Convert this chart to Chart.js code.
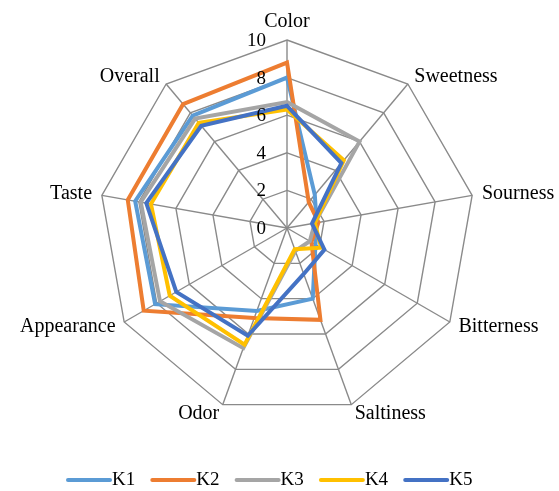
<!DOCTYPE html>
<html>
<head>
<meta charset="utf-8">
<script src="https://cdn.jsdelivr.net/npm/chart.js@4/dist/chart.umd.min.js"></script>
<style>
  html, body { margin: 0; padding: 0; background: #ffffff; }
  #wrap { width: 559px; height: 491px; position: relative; }
</style>
</head>
<body>
<div id="wrap"><canvas id="radar" width="559" height="491"></canvas></div>
<script>
// Sensory attributes (one spoke each, clockwise from the top)
const categories = ['Color', 'Sweetness', 'Sourness', 'Bitterness', 'Saltiness', 'Odor', 'Appearance', 'Taste', 'Overall'];

// Panel scores per sample
const k1 = [8.0, 2.3, 1.6, 1.75, 4.0, 4.7, 8.1, 8.2, 7.8];
const k2 = [8.8, 1.8, 1.7, 1.5, 5.2, 5.1, 8.8, 8.6, 8.6];
const k3 = [6.7, 6.0, 1.5, 1.4, 1.3, 6.8, 7.8, 7.9, 7.6];
const k4 = [6.3, 4.7, 1.5, 2.1, 1.2, 6.6, 7.2, 7.35, 7.3];
const k5 = [6.5, 4.5, 1.35, 2.3, 2.6, 6.1, 6.8, 7.6, 7.1];

const seriesNames = ['K1', 'K2', 'K3', 'K4', 'K5'];
const seriesColors = ['#5B9BD5', '#ED7D31', '#A5A5A5', '#FFC000', '#4472C4'];

// Radial scale ticks
const tickValues = [0, 2, 4, 6, 8, 10];
const tickLabels = ['0', '2', '4', '6', '8', '10'];

const SERIF = '"Liberation Serif", "Times New Roman", serif';

// Spoke captions, tick numbers and the legend row are painted here
const annotate = {
  id: 'annotate',
  afterDraw(chart) {
    const ctx = chart.ctx;
    const r = chart.scales.r;
    ctx.save();
    ctx.fillStyle = '#000000';

    // spoke captions
    ctx.font = '20px ' + SERIF;
    categories.forEach((name, i) => {
      const p = r.getPointPositionForValue(i, r.max);
      const dx = p.x - r.xCenter;
      const dy = p.y - r.yCenter;
      const len = Math.hypot(dx, dy);
      const ux = dx / len, uy = dy / len;
      if (Math.abs(ux) < 0.01) {
        ctx.textAlign = 'center';
        ctx.textBaseline = 'alphabetic';
        ctx.fillText(name, p.x, p.y - 13);
      } else {
        ctx.textAlign = ux > 0 ? 'left' : 'right';
        ctx.textBaseline = 'middle';
        ctx.fillText(name, p.x + ux * 10, p.y + uy * 10);
      }
    });

    // tick numbers, set just left of the vertical spoke
    ctx.font = '19px ' + SERIF;
    ctx.textAlign = 'right';
    ctx.textBaseline = 'middle';
    tickValues.forEach((v, j) => {
      const y = r.yCenter - r.getDistanceFromCenterForValue(v);
      ctx.fillText(tickLabels[j], r.xCenter - 21, y + 1);
    });

    // legend row
    const legendY = 480;
    let x = 68;
    ctx.font = '19px ' + SERIF;
    ctx.textAlign = 'left';
    seriesNames.forEach((name, i) => {
      ctx.strokeStyle = seriesColors[i];
      ctx.lineWidth = 4;
      ctx.lineCap = 'round';
      ctx.beginPath();
      ctx.moveTo(x, legendY);
      ctx.lineTo(x + 42, legendY);
      ctx.stroke();
      ctx.fillText(name, x + 44, legendY);
      x += 84.3;
    });
    ctx.restore();
  }
};

const values = [k1, k2, k3, k4, k5];
const datasets = values.map((vals, i) => ({
  label: seriesNames[i],
  data: vals,
  borderColor: seriesColors[i],
  backgroundColor: seriesColors[i],
  borderWidth: 4,
  fill: false,
  tension: 0,
  pointRadius: 0,
  pointHoverRadius: 0,
  order: values.length - i
}));

new Chart(document.getElementById('radar'), {
  type: 'radar',
  data: { labels: categories, datasets },
  options: {
    responsive: false,
    animation: false,
    layout: { padding: { left: 99, right: 84, top: 40, bottom: 75 } },
    plugins: {
      legend: { display: false },
      tooltip: { enabled: false }
    },
    scales: {
      r: {
        min: 0,
        max: 10,
        beginAtZero: true,
        ticks: { stepSize: 2, display: false },
        pointLabels: { display: false },
        grid: { color: '#8a8a8a', lineWidth: 1.4 },
        angleLines: { color: '#8a8a8a', lineWidth: 1.4 }
      }
    }
  },
  plugins: [annotate]
});
</script>
</body>
</html>
